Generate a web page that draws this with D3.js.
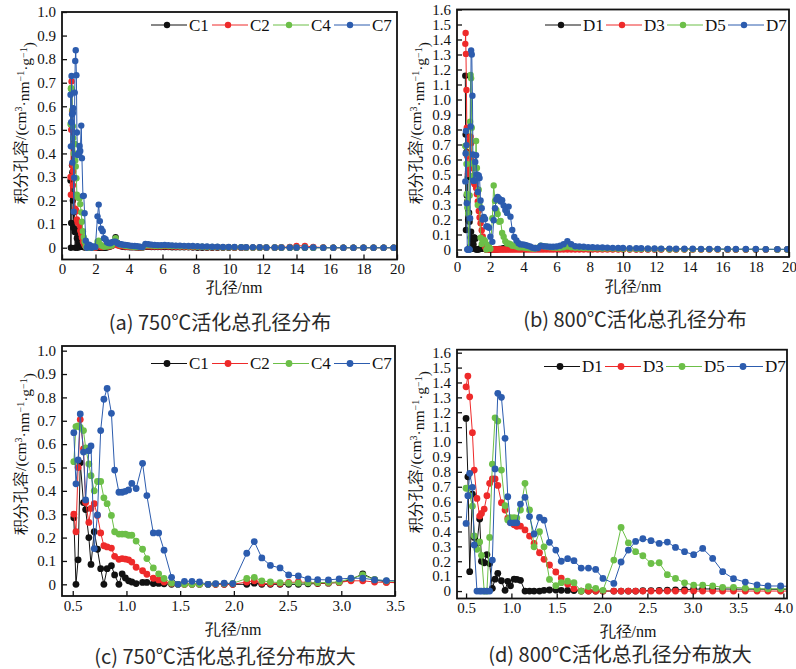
<!DOCTYPE html>
<html>
<head>
<meta charset="utf-8">
<script src="https://cdnjs.cloudflare.com/ajax/libs/d3/7.8.5/d3.min.js"></script>
<style>
  body { margin: 0; background: #fff; }
</style>
</head>
<body>
<svg id="chart" width="796" height="669"></svg>
<script>
// pore size grid, 750 C samples (nm)
const cXNear = [0.51, 0.53, 0.55, 0.57, 0.60, 0.62, 0.65, 0.67, 0.70, 0.73,
  0.76, 0.79, 0.82, 0.86, 0.89, 0.93, 0.96, 0.99, 1.02, 1.05,
  1.09, 1.15, 1.19, 1.25, 1.30, 1.35, 1.42, 1.48, 1.54, 1.61,
  1.68, 1.76, 1.83, 1.91, 1.99, 2.12, 2.19, 2.26, 2.34, 2.43,
  2.51, 2.60, 2.69, 2.78, 2.88, 2.98, 3.09, 3.20, 3.31, 3.42];
const cXFar = [3.53, 3.65, 3.78, 3.91, 4.05, 4.19, 4.34, 4.49, 4.65, 4.81,
  4.98, 5.16, 5.34, 5.53, 5.72, 5.92, 6.13, 6.35, 6.57, 6.80,
  7.04, 7.29, 7.55, 7.81, 8.09, 8.37, 8.66, 8.97, 9.28, 9.61,
  9.95, 10.3, 10.7, 11.0, 11.4, 11.8, 12.2, 12.7, 13.1, 13.6,
  14.0, 14.5, 15.0, 15.6, 16.2, 16.8, 17.4, 18.0, 18.6, 19.2, 19.8];

const c1Near = [0.285, 0.0, 0.105, 0.52, 0.35, 0.32, 0.20, 0.085, 0.225, 0.15,
  0.067, 0.0, 0.067, 0.08, 0.04, 0.0, 0.045, 0.027, 0.015, 0.01,
  0.003, 0.008, 0.008, 0.003, 0.004, 0.002, 0, 0, 0, 0,
  0, 0, 0, 0, 0, 0, 0.005, 0, 0, 0,
  0, 0, 0.002, 0.003, 0.005, 0.008, 0.02, 0.045, 0.02, 0.01];
const c1Far = [0.006, 0.004, 0.003, 0.003, 0.002, 0.002, 0.002, 0.001, 0.001, 0.001,
  0.004, 0.004, 0.003, 0.003, 0.003, 0.003, 0.003, 0.003, 0.002, 0.002,
  0.002, 0.002, 0.002, 0.001, 0, 0, 0, 0, 0, 0,
  0, 0, 0, 0, 0, 0, 0, 0, 0, 0,
  0, 0, 0, 0, 0, 0, 0, 0, 0, 0, 0];
const c2Near = [0.30, 0.225, 0.50, 0.705, 0.58, 0.35, 0.265, 0.325, 0.345, 0.295,
  0.22, 0.165, 0.16, 0.155, 0.12, 0.107, 0.11, 0.108, 0.105, 0.095,
  0.073, 0.058, 0.043, 0.026, 0.019, 0.01, 0.004, 0, 0, 0,
  0, 0, 0, 0, 0, 0.01, 0.015, 0.005, 0.003, 0.003,
  0.008, 0.01, 0.008, 0.005, 0.006, 0.008, 0.015, 0.015, 0.01, 0.008];
const c2Far = [0.007, 0.006, 0.005, 0.004, 0.004, 0.003, 0.003, 0.002, 0.002, 0.002,
  0.006, 0.006, 0.005, 0.005, 0.005, 0.005, 0.006, 0.005, 0.005, 0.004,
  0.004, 0.004, 0.003, 0.003, 0.003, 0.003, 0.002, 0.002, 0.002, 0.002,
  0.002, 0.001, 0.001, 0.001, 0.001, 0.001, 0.001, 0.001, 0.002, 0.003,
  0.008, 0.008, 0.003, 0.001, 0, 0, 0, 0, 0, 0, 0];
const c4Near = [0.525, 0.675, 0.678, 0.672, 0.658, 0.584, 0.515, 0.465, 0.40, 0.44,
  0.44, 0.37, 0.345, 0.295, 0.225, 0.215, 0.215, 0.215, 0.21, 0.21,
  0.185, 0.15, 0.11, 0.07, 0.045, 0.025, 0.005, 0, 0, 0,
  0, 0, 0.002, 0.003, 0.004, 0.025, 0.03, 0.015, 0.01, 0.007,
  0.005, 0.005, 0.006, 0.007, 0.008, 0.01, 0.025, 0.04, 0.02, 0.015];
const c4Far = [0.012, 0.01, 0.008, 0.007, 0.006, 0.005, 0.004, 0.003, 0.003, 0.002,
  0.01, 0.01, 0.009, 0.008, 0.008, 0.008, 0.009, 0.008, 0.007, 0.007,
  0.006, 0.006, 0.005, 0.005, 0.004, 0.004, 0.003, 0.003, 0.003, 0.002,
  0.002, 0.002, 0.002, 0.001, 0.001, 0.001, 0.001, 0.001, 0.001, 0.001,
  0.001, 0.001, 0, 0, 0, 0, 0, 0, 0, 0, 0];
const c7Near = [0.649, 0.43, 0.532, 0.729, 0.566, 0.361, 0.572, 0.592, 0.153, 0.297,
  0.658, 0.792, 0.838, 0.732, 0.489, 0.394, 0.394, 0.398, 0.404, 0.432,
  0.41, 0.518, 0.38, 0.22, 0.22, 0.146, 0.03, 0, 0.013, 0.013,
  0.01, 0, 0.003, 0.005, 0.003, 0.133, 0.183, 0.113, 0.081, 0.07,
  0.04, 0.036, 0.023, 0.02, 0.019, 0.023, 0.026, 0.026, 0.019, 0.016];
const c7Far = [0.015, 0.013, 0.012, 0.011, 0.009, 0.008, 0.007, 0.006, 0.004, 0.003,
  0.016, 0.015, 0.013, 0.012, 0.011, 0.011, 0.012, 0.011, 0.01, 0.009,
  0.009, 0.008, 0.007, 0.007, 0.006, 0.005, 0.005, 0.004, 0.004, 0.003,
  0.003, 0.003, 0.002, 0.002, 0.002, 0.002, 0.001, 0.001, 0.001, 0.001,
  0.001, 0.001, 0.001, 0, 0, 0, 0, 0, 0, 0, 0];

// pore size grid, 800 C samples (nm)
const dXNear = [0.50, 0.52, 0.54, 0.57, 0.59, 0.62, 0.65, 0.67, 0.70, 0.73,
  0.76, 0.79, 0.82, 0.85, 0.89, 0.93, 0.96, 0.99, 1.03, 1.06,
  1.10, 1.15, 1.20, 1.25, 1.31, 1.36, 1.42, 1.49, 1.55, 1.62,
  1.69, 1.77, 1.85, 1.93, 2.01, 2.13, 2.21, 2.29, 2.37, 2.45,
  2.54, 2.63, 2.72, 2.81, 2.91, 3.01, 3.11, 3.22, 3.33, 3.45,
  3.58, 3.71, 3.83, 3.97];
const dXFar = [4.11, 4.25, 4.40, 4.55, 4.71, 4.88, 5.05, 5.22, 5.41, 5.60,
  5.79, 6.00, 6.21, 6.42, 6.65, 6.88, 7.12, 7.37, 7.63, 7.90,
  8.17, 8.46, 8.76, 9.06, 9.38, 9.71, 10.0, 10.4, 10.8, 11.1,
  11.5, 11.9, 12.3, 12.8, 13.2, 13.7, 14.2, 14.7, 15.2, 15.7,
  16.3, 16.8, 17.4, 18.0, 18.6, 19.3, 19.9];

const d1Near = [1.159, 0.767, 0.13, 0.65, 0.36, 0.32, 0.483, 0.2, 0.19, 0.245,
  0.185, 0.018, 0.08, 0.119, 0.069, 0.005, 0.065, 0.035, 0.08, 0.078,
  0.072, 0, 0, 0, 0, 0.005, 0.007, 0.007, 0.005, 0.004,
  0.003, 0, 0, 0, 0, 0, 0, 0, 0, 0.002,
  0.003, 0.004, 0.006, 0.008, 0.01, 0.012, 0.014, 0.014, 0.014, 0.013,
  0.013, 0.013, 0.012, 0.012];
const d1Far = [0.012, 0.012, 0.011, 0.01, 0.01, 0.01, 0.01, 0.01, 0.009, 0.009,
  0.008, 0.008, 0.008, 0.008, 0.008, 0.007, 0.007, 0.006, 0.006, 0.005,
  0.005, 0.004, 0.004, 0.004, 0.003, 0.003, 0.003, 0.002, 0.002, 0.002,
  0.002, 0.002, 0.001, 0.001, 0.001, 0.001, 0.001, 0.001, 0.001, 0.001,
  0, 0, 0, 0, 0, 0, 0];
const d3Near = [1.371, 1.443, 1.304, 1.063, 0.812, 0.622, 0.503, 0.521, 0.55, 0.64,
  0.723, 0.752, 0.752, 0.709, 0.593, 0.544, 0.49, 0.46, 0.445, 0.435,
  0.436, 0.41, 0.369, 0.32, 0.257, 0.213, 0.175, 0.128, 0.087, 0.047,
  0.016, 0, 0, 0, 0, 0, 0, 0, 0, 0,
  0, 0, 0, 0, 0, 0, 0, 0, 0, 0,
  0, 0, 0, 0];
const d3Far = [0, 0, 0, 0, 0, 0, 0, 0, 0, 0,
  0, 0, 0, 0, 0, 0, 0, 0, 0, 0,
  0, 0, 0, 0, 0, 0, 0, 0, 0, 0,
  0, 0, 0, 0, 0, 0, 0, 0, 0, 0,
  0, 0, 0, 0, 0, 0, 0];
const d5Near = [0.69, 0.69, 0.64, 0.57, 0.37, 0.28, 0.33, 0.24, 0.0, 0.0,
  0.36, 0.852, 1.163, 1.141, 0.812, 0.573, 0.477, 0.492, 0.492, 0.49,
  0.544, 0.723, 0.544, 0.297, 0.398, 0.297, 0.078, 0.036, 0.056, 0.066,
  0.056, 0.0, 0.03, 0.018, 0.005, 0.208, 0.427, 0.324, 0.264, 0.237,
  0.185, 0.19, 0.11, 0.085, 0.055, 0.04, 0.04, 0.035, 0.025, 0.025,
  0.02, 0.015, 0.015, 0.015];
const d5Far = [0.012, 0.01, 0.008, 0.006, 0.006, 0.012, 0.025, 0.022, 0.018, 0.015,
  0.013, 0.012, 0.012, 0.015, 0.02, 0.015, 0.012, 0.011, 0.01, 0.009,
  0.008, 0.008, 0.007, 0.006, 0.006, 0.005, 0.005, 0.004, 0.004, 0.004,
  0.003, 0.003, 0.003, 0.002, 0.002, 0.002, 0.002, 0.002, 0.001, 0.001,
  0.001, 0.001, 0.001, 0.001, 0.001, 0, 0];
const d7Near = [0.454, 0.64, 0.79, 0.696, 0.309, 0, 0, 0, 0, 0,
  0, 0.208, 0.82, 1.327, 1.30, 1.025, 0.633, 0.458, 0.458, 0.458,
  0.584, 0.629, 0.50, 0.383, 0.494, 0.476, 0.327, 0.275, 0.20, 0.217,
  0.204, 0.154, 0.154, 0.145, 0.085, 0.051, 0.195, 0.275, 0.333, 0.351,
  0.338, 0.32, 0.329, 0.293, 0.264, 0.244, 0.286, 0.219, 0.13, 0.083,
  0.06, 0.042, 0.034, 0.034];
const d7Far = [0.03, 0.025, 0.02, 0.012, 0.008, 0.01, 0.025, 0.022, 0.02, 0.018,
  0.018, 0.02, 0.025, 0.035, 0.055, 0.035, 0.022, 0.02, 0.018, 0.016,
  0.015, 0.014, 0.013, 0.012, 0.011, 0.01, 0.01, 0.009, 0.008, 0.008,
  0.007, 0.007, 0.006, 0.006, 0.005, 0.005, 0.005, 0.004, 0.004, 0.004,
  0.003, 0.003, 0.003, 0.003, 0.002, 0.002, 0.002];

const cNames = ["C1", "C2", "C4", "C7"];
const dNames = ["D1", "D3", "D5", "D7"];
const colors = ["#111111", "#ee2a2a", "#6cbf48", "#2c5cae"];

const xTicksWide = [0, 2, 4, 6, 8, 10, 12, 14, 16, 18, 20];
const xTicksC = [0.5, 1.0, 1.5, 2.0, 2.5, 3.0, 3.5];
const xTicksD = [0.5, 1.0, 1.5, 2.0, 2.5, 3.0, 3.5, 4.0];
const yTicks10 = [0, 0.1, 0.2, 0.3, 0.4, 0.5, 0.6, 0.7, 0.8, 0.9, 1.0];
const yTicks16 = [0, 0.1, 0.2, 0.3, 0.4, 0.5, 0.6, 0.7, 0.8, 0.9, 1.0, 1.1, 1.2, 1.3, 1.4, 1.5, 1.6];

const captions = ["(a) 750℃活化总孔径分布", "(b) 800℃活化总孔径分布",
  "(c) 750℃活化总孔径分布放大", "(d) 800℃活化总孔径分布放大"];

const serif = '"Liberation Serif", "Times New Roman", Times, serif';
const sans = '"Noto Sans CJK SC", "Noto Sans", sans-serif';

const cX = cXNear.concat(cXFar);
const dX = dXNear.concat(dXFar);
const cSeries = [c1Near.concat(c1Far), c2Near.concat(c2Far), c4Near.concat(c4Far), c7Near.concat(c7Far)]
  .map((v, i) => ({name: cNames[i], color: colors[i], pts: d3.zip(cX, v)}));
const dSeries = [d1Near.concat(d1Far), d3Near.concat(d3Far), d5Near.concat(d5Far), d7Near.concat(d7Far)]
  .map((v, i) => ({name: dNames[i], color: colors[i], pts: d3.zip(dX, v)}));

const panels = [
  {l: 62, r: 397, t: 12, b: 259.5, xd: [0, 20], yd: [-0.05, 1.0], xt: xTicksWide, yt: yTicks10, xf: d3.format("d"),
   series: cSeries, leg: [151, 25], xTitle: [234, 287], yTitle: [21, 123], cap: [220, 323], rad: 3.2},
  {l: 457, r: 789, t: 9.5, b: 257, xd: [0, 20], yd: [-0.05, 1.6], xt: xTicksWide, yt: yTicks16, xf: d3.format("d"),
   series: dSeries, leg: [545, 25], xTitle: [633, 286], yTitle: [416, 123], cap: [635, 320], rad: 3.2},
  {l: 62, r: 395, t: 346, b: 596, xd: [0.4, 3.5], yd: [-0.05, 1.02], xt: xTicksC, yt: yTicks10, xf: d3.format(".1f"),
   series: cSeries, leg: [151, 363.5], xTitle: [233, 629], yTitle: [21, 454], cap: [225, 657], rad: 3.4},
  {l: 457, r: 787, t: 349.7, b: 598.5, xd: [0.4, 4.04], yd: [-0.05, 1.62], xt: xTicksD, yt: yTicks16, xf: d3.format(".1f"),
   series: dSeries, leg: [544, 366.5], xTitle: [628, 631], yTitle: [416, 452], cap: [620, 655], rad: 3.4}
];

const svg = d3.select("#chart");
const yf = d => d === 0 ? "0" : d3.format(".1f")(d);

panels.forEach(function (p, k) {
  const x = d3.scaleLinear().domain(p.xd).range([p.l, p.r]);
  const y = d3.scaleLinear().domain(p.yd).range([p.b, p.t]);

  svg.append("clipPath").attr("id", "clip" + k)
    .append("rect").attr("x", p.l).attr("y", p.t).attr("width", p.r - p.l).attr("height", p.b - p.t);

  const plot = svg.append("g").attr("clip-path", "url(#clip" + k + ")");
  const line = d3.line().x(d => x(d[0])).y(d => y(d[1]));

  p.series.forEach(function (s) {
    plot.append("path")
      .datum(s.pts)
      .attr("d", line)
      .style("fill", "none")
      .style("stroke", s.color)
      .style("stroke-width", "1px");
    plot.selectAll(null)
      .data(s.pts)
      .enter().append("circle")
      .attr("cx", d => x(d[0]))
      .attr("cy", d => y(d[1]))
      .attr("r", p.rad)
      .style("fill", s.color);
  });

  // axes, ticks point inward
  const gx = svg.append("g")
    .attr("transform", "translate(0," + p.b + ")")
    .call(d3.axisBottom(x).tickValues(p.xt).tickFormat(p.xf).tickSizeInner(-5).tickSizeOuter(0).tickPadding(4));
  const gy = svg.append("g")
    .attr("transform", "translate(" + p.l + ",0)")
    .call(d3.axisLeft(y).tickValues(p.yt).tickFormat(yf).tickSizeInner(-5).tickSizeOuter(0).tickPadding(6));
  [gx, gy].forEach(function (g) {
    g.attr("font-family", null).attr("font-size", null);
    g.select(".domain").remove();
    g.selectAll(".tick line").style("stroke", "#111").style("stroke-width", "1.3px");
    g.selectAll(".tick text").style("font-family", serif).style("font-size", "15px").style("fill", "#111");
  });

  svg.append("rect")
    .attr("x", p.l).attr("y", p.t).attr("width", p.r - p.l).attr("height", p.b - p.t)
    .style("fill", "none").style("stroke", "#111").style("stroke-width", "1.8px");

  // legend
  p.series.forEach(function (s, i) {
    const sx = p.leg[0] + i * 61;
    const lg = svg.append("g");
    lg.append("line").attr("x1", sx).attr("x2", sx + 36).attr("y1", p.leg[1]).attr("y2", p.leg[1])
      .style("stroke", s.color).style("stroke-width", "1px");
    lg.append("circle").attr("cx", sx + 16).attr("cy", p.leg[1]).attr("r", p.rad).style("fill", s.color);
    lg.append("text").attr("x", sx + 38).attr("y", p.leg[1]).attr("dy", "0.35em")
      .style("font-family", serif).style("font-size", "17px").style("fill", "#111").text(s.name);
  });

  svg.append("text")
    .attr("x", p.xTitle[0]).attr("y", p.xTitle[1]).attr("dy", "0.35em")
    .attr("text-anchor", "middle")
    .style("font-family", serif).style("font-size", "16px").style("fill", "#111")
    .text("孔径/nm");

  const yt = svg.append("text")
    .attr("transform", "translate(" + p.yTitle[0] + "," + p.yTitle[1] + ") rotate(-90)")
    .attr("dy", "0.35em").attr("text-anchor", "middle")
    .style("font-family", serif).style("font-size", "15.5px").style("fill", "#111");
  yt.append("tspan").text("积分孔容/(cm");
  yt.append("tspan").attr("dy", "-0.45em").style("font-size", "10px").text("3");
  yt.append("tspan").attr("dy", "0.45em").text("·nm");
  yt.append("tspan").attr("dy", "-0.45em").style("font-size", "10px").text("−1");
  yt.append("tspan").attr("dy", "0.45em").text("·g");
  yt.append("tspan").attr("dy", "-0.45em").style("font-size", "10px").text("−1");
  yt.append("tspan").attr("dy", "0.45em").text(")");

  svg.append("text")
    .attr("x", p.cap[0]).attr("y", p.cap[1]).attr("dy", "0.35em")
    .attr("text-anchor", "middle")
    .style("font-family", sans).style("font-size", "20px").style("fill", "#2a2a2a")
    .text(captions[k]);
});
</script>
</body>
</html>
